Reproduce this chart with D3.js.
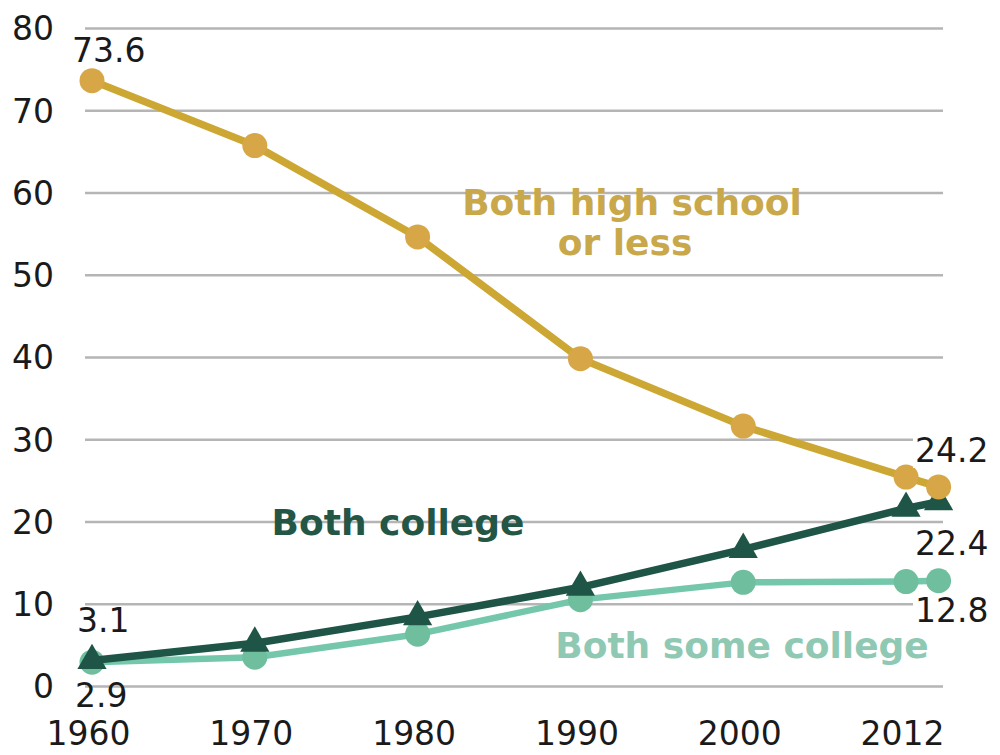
<!DOCTYPE html>
<html>
<head>
<meta charset="utf-8">
<script src="https://cdn.jsdelivr.net/npm/d3@7"></script>
<style>
  html, body { margin: 0; padding: 0; background: #fff; }
  svg { display: block; }
  text { font-family: "DejaVu Sans", Verdana, sans-serif; }
</style>
</head>
<body>
<svg id="chart" width="1000" height="755"></svg>
<script>
// Share of married couples by shared education level (%)
const years = [1960, 1970, 1980, 1990, 2000, 2010, 2012];
const highSchoolOrLess = [73.6, 65.7, 54.6, 39.8, 31.6, 25.4, 24.2];
const bothCollege      = [3.1, 5.2, 8.4, 12.0, 16.6, 21.6, 22.4];
const bothSomeCollege  = [2.9, 3.5, 6.3, 10.5, 12.6, 12.7, 12.8];

const yTickValues = [0, 10, 20, 30, 40, 50, 60, 70, 80];
const xTickValues = [1960, 1970, 1980, 1990, 2000, 2010];
const xTickLabels = ["1960", "1970", "1980", "1990", "2000", "2012"];

const svg = d3.select("#chart");

const x = d3.scaleLinear().domain([1960, 2012]).range([92, 938.6]);
const y = d3.scaleLinear().domain([0, 80]).range([686, 28]);

const gridLeft = 85, gridRight = 943;

// Gridlines + y tick labels
const yAxis = svg.append("g")
  .attr("transform", `translate(${gridLeft},0)`)
  .call(d3.axisLeft(y).tickValues(yTickValues).tickSize(-(gridRight - gridLeft)).tickPadding(31));
yAxis.select(".domain").remove();
yAxis.selectAll(".tick line").attr("stroke", "#b5b5b5").attr("stroke-width", 2.5);
yAxis.selectAll(".tick text")
  .attr("fill", "#1a1a1a").attr("font-size", 33).attr("dy", "0.36em")
  .style("font-family", "'DejaVu Sans', Verdana, sans-serif");

// x tick labels
const xAxis = svg.append("g")
  .attr("transform", `translate(0,${y(0)})`)
  .call(d3.axisBottom(x).tickValues(xTickValues).tickFormat((d, i) => xTickLabels[i]).tickSize(0));
xAxis.select(".domain").remove();
xAxis.selectAll(".tick text")
  .attr("fill", "#1a1a1a").attr("font-size", 33)
  .attr("y", 59).attr("dy", 0).attr("dx", -4)
  .style("font-family", "'DejaVu Sans', Verdana, sans-serif");

const line = d3.line().x((d, i) => x(years[i])).y(d => y(d));

function series(values, color, width, markerColor, marker) {
  const g = svg.append("g");
  g.append("path").datum(values)
    .attr("d", line).attr("fill", "none")
    .attr("stroke", color).attr("stroke-width", width)
    .attr("stroke-linejoin", "round");
  if (marker === "circle") {
    g.selectAll("circle").data(values).join("circle")
      .attr("cx", (d, i) => x(years[i])).attr("cy", d => y(d))
      .attr("r", 12.5).attr("fill", markerColor);
  } else {
    g.selectAll("path.m").data(values).join("path").attr("class", "m")
      .attr("d", d3.symbol(d3.symbolTriangle, 370))
      .attr("transform", (d, i) => `translate(${x(years[i])},${y(d)})`)
      .attr("fill", markerColor);
  }
}

series(bothSomeCollege, "#74c7aa", 6.5, "#6fbf9f", "circle");
series(bothCollege, "#1e5546", 7.5, "#1e5546", "triangle");
series(highSchoolOrLess, "#cda733", 7.5, "#d7a646", "circle");

// Value labels at the start and end of each line
const valueLabels = [
  { text: highSchoolOrLess[0].toFixed(1), x: 72, y: 62 },
  { text: bothCollege[0].toFixed(1), x: 77, y: 632 },
  { text: bothSomeCollege[0].toFixed(1), x: 75, y: 707 },
  { text: highSchoolOrLess[6].toFixed(1), x: 915, y: 462 },
  { text: bothCollege[6].toFixed(1), x: 915, y: 555 },
  { text: bothSomeCollege[6].toFixed(1), x: 915, y: 622 }
];
const vl = svg.append("g");
valueLabels.forEach(l => {
  const t = vl.append("text")
    .attr("x", l.x).attr("y", l.y)
    .attr("font-size", 33).attr("fill", "#1a1a1a")
    .text(l.text);
  if (l.x > 900) {
    const b = t.node().getBBox();
    vl.insert("rect", () => t.node())
      .attr("x", b.x - 2).attr("y", b.y + 4).attr("width", b.width + 4).attr("height", b.height - 6)
      .attr("fill", "#fff");
  }
});

// Series names
const names = [
  { lines: ["Both high school", "or less"], xs: [632, 625], ys: [215, 255], size: 36, color: "#c9a84c" },
  { lines: ["Both college"], xs: [398], ys: [535], size: 36, color: "#245646" },
  { lines: ["Both some college"], xs: [742], ys: [658], size: 36, color: "#8fc9b4" }
];
names.forEach(n => {
  n.lines.forEach((s, i) => {
    svg.append("text")
      .attr("x", n.xs[i]).attr("y", n.ys[i])
      .attr("text-anchor", "middle")
      .attr("font-size", n.size).attr("font-weight", "bold")
      .attr("fill", n.color)
      .text(s);
  });
});
</script>
</body>
</html>
